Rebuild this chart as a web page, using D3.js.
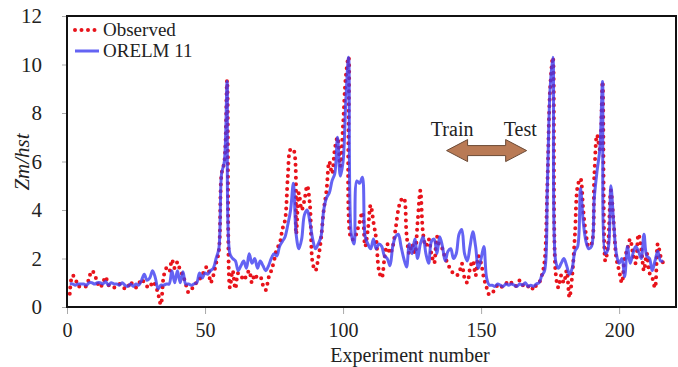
<!DOCTYPE html>
<html>
<head>
<meta charset="utf-8">
<script src="https://cdn.jsdelivr.net/npm/d3@7"></script>
<style>
  body { margin: 0; background: #fff; }
  text { font-family: "Liberation Serif", "Times New Roman", serif; fill: #222; }
</style>
</head>
<body>
<script>
// Observed Zm/hst, experiments 1..216
var observed = [
  0.55,1.3,1.2,0.85,0.85,0.85,0.85,1.2,1.5,1.35,
  1.0,0.8,1.0,1.25,0.9,0.9,0.8,0.85,0.95,0.9,
  0.75,0.8,1.05,0.85,0.8,0.95,1.15,1.0,0.85,0.8,
  1.05,0.9,0.55,0.1,1.25,1.6,1.45,1.95,1.6,1.85,
  1.5,1.3,0.95,0.6,0.75,0.8,1.05,1.15,1.3,1.6,
  1.65,1.0,1.3,1.8,2.3,5.5,6.0,9.35,0.8,1.5,
  0.75,1.4,1.3,1.1,1.3,1.5,1.0,1.35,1.2,1.25,
  0.9,0.7,1.2,1.5,1.9,2.4,2.6,3.2,3.6,5.4,
  6.5,6.5,3.0,4.7,4.0,4.4,5.0,4.2,1.8,1.5,
  2.0,2.8,4.0,4.8,6.0,5.5,6.5,7.0,5.8,7.5,
  9.5,10.3,2.8,2.8,3.1,3.5,3.9,2.5,3.2,4.2,
  3.5,2.8,1.5,1.2,2.0,2.6,2.2,2.5,3.2,4.0,
  4.4,4.5,3.0,2.2,2.6,2.2,3.5,4.8,3.0,2.5,
  2.8,2.2,1.8,2.9,2.5,2.4,2.0,1.8,1.5,1.4,
  1.3,1.4,1.8,1.2,1.0,1.6,1.9,1.3,2.1,1.8,
  1.2,0.8,0.5,0.6,0.7,0.9,0.8,0.9,1.0,0.9,
  1.0,0.85,0.9,1.1,0.9,0.95,0.85,0.9,0.7,0.9,
  1.0,1.3,1.9,5.0,9.0,10.3,1.4,0.8,1.3,1.0,
  1.5,0.4,1.3,3.0,5.0,5.3,4.0,3.0,2.5,2.6,
  5.4,7.1,6.5,9.3,1.9,2.6,4.8,3.5,2.0,1.5,
  1.0,2.0,2.4,2.8,2.2,1.8,3.0,2.4,1.5,2.2,
  1.4,1.2,0.8,2.6,2.1,1.8
];

// ORELM 11 prediction
var orelm = [
  0.95,0.95,0.9,0.95,0.95,0.95,0.9,1.0,1.0,0.95,
  1.0,1.0,0.95,1.05,0.9,1.0,0.95,0.95,0.9,1.0,
  0.9,0.85,0.95,0.85,0.95,0.9,1.1,1.35,1.1,1.2,
  1.5,1.2,0.75,0.9,0.9,0.95,0.95,1.5,1.0,1.5,
  1.0,1.45,0.95,0.95,0.9,0.95,1.0,1.4,1.2,1.4,
  1.35,1.5,1.6,2.0,2.4,5.5,6.0,9.3,2.2,2.0,
  1.9,1.5,1.7,1.9,1.6,2.2,1.8,2.0,1.6,1.9,
  1.7,1.5,1.7,2.0,2.2,2.1,2.5,2.7,2.9,3.4,
  4.0,5.1,3.0,2.4,2.8,3.8,4.0,3.5,2.8,2.4,
  2.6,2.9,4.0,4.5,4.7,5.2,5.5,7.0,5.4,6.0,
  8.5,10.3,3.0,2.6,5.2,5.1,5.35,2.9,2.6,2.4,
  2.8,2.4,2.6,2.5,2.1,2.0,1.7,2.5,2.9,3.0,
  2.5,2.0,1.65,2.6,2.2,2.8,2.0,2.6,2.9,2.2,
  1.8,2.7,2.8,2.2,2.9,2.5,1.9,2.3,2.4,2.0,
  2.2,3.0,3.2,2.2,1.9,2.5,3.1,2.5,1.6,2.0,
  2.5,1.2,0.9,0.9,0.85,0.95,0.9,0.85,0.95,0.9,
  0.95,0.9,0.85,0.95,0.9,1.0,0.85,0.9,0.85,0.95,
  1.0,1.3,1.5,5.0,9.0,10.3,1.9,1.6,1.8,2.0,
  1.7,1.35,1.6,2.3,2.5,4.9,3.5,2.7,2.4,2.5,
  4.5,5.6,6.5,9.3,2.2,2.4,5.0,3.5,2.2,1.8,
  2.0,1.25,2.5,1.8,2.2,2.5,2.3,2.0,3.0,2.1,
  2.0,1.5,1.9,2.3,1.9,1.9
];

var xTicks = [0, 50, 100, 150, 200];
var yTicks = [0, 2, 4, 6, 8, 10, 12];
var seriesNames = ["Observed", "ORELM 11"];

(function() {
  var w = 678, h = 367;
  var pLeft = 67, pRight = 676, pTop = 16, pBottom = 307;

  var svg = d3.select("body").append("svg")
      .attr("width", w)
      .attr("height", h);

  var xScale = d3.scaleLinear().domain([0, 220.6]).range([pLeft, pRight]);
  var yScale = d3.scaleLinear().domain([0, 12]).range([pBottom, pTop]);

  // axes (gray small ticks, serif labels)
  var xAxis = d3.axisBottom(xScale).tickValues(xTicks).tickSize(7).tickPadding(9);
  var yAxis = d3.axisLeft(yScale).tickValues(yTicks).tickSize(5).tickPadding(16);

  var gx = svg.append("g")
      .attr("transform", `translate(0, ${pBottom})`)
      .call(xAxis);
  var gy = svg.append("g")
      .attr("transform", `translate(${pLeft}, 0)`)
      .call(yAxis);

  [gx, gy].forEach(function(g) {
    g.select(".domain").remove();
    g.selectAll(".tick line").attr("stroke", "#aaa");
    g.selectAll(".tick text")
      .attr("font-size", "21px")
      .attr("font-family", "Liberation Serif, serif")
      .attr("fill", "#222");
  });
  gx.selectAll(".tick text").attr("font-size", "20px");
  gy.selectAll(".tick text").attr("dx", "-4px");

  var line = d3.line()
      .x(function(d, i) { return xScale(i + 1); })
      .y(function(d) { return yScale(d); })
      .curve(d3.curveCatmullRom.alpha(0.5));

  // observed as a round-dot line
  svg.append("path")
      .datum(observed)
      .attr("fill", "none")
      .attr("stroke", "#e8131b")
      .attr("stroke-width", 4)
      .attr("stroke-linecap", "round")
      .attr("stroke-dasharray", "0,6.5")
      .attr("d", line);

  svg.append("path")
      .datum(orelm)
      .attr("fill", "none")
      .attr("stroke", "#3d3cf0")
      .attr("stroke-opacity", 0.8)
      .attr("stroke-width", 3)
      .attr("stroke-linejoin", "round")
      .attr("d", line);

  // plot frame
  svg.append("rect")
      .attr("x", pLeft).attr("y", pTop)
      .attr("width", pRight - pLeft).attr("height", pBottom - pTop)
      .attr("fill", "none")
      .attr("stroke", "#111")
      .attr("stroke-width", 2);

  // legend
  var legend = svg.append("g").attr("transform", "translate(75, 30)");
  legend.append("line")
      .attr("x1", 0).attr("x2", 23).attr("y1", 0).attr("y2", 0)
      .attr("stroke", "#e8131b").attr("stroke-width", 4)
      .attr("stroke-linecap", "round").attr("stroke-dasharray", "0,6.5");
  legend.append("line")
      .attr("x1", 0).attr("x2", 24).attr("y1", 21).attr("y2", 21)
      .attr("stroke", "#3d3cf0").attr("stroke-opacity", 0.8).attr("stroke-width", 3);
  legend.selectAll("text.lg")
      .data(seriesNames)
      .enter().append("text")
      .attr("class", "lg")
      .attr("x", 28)
      .attr("y", function(d, i) { return 6 + i * 21; })
      .attr("font-size", "19px")
      .text(function(d) { return d; });

  // axis titles
  svg.append("text")
      .attr("x", 410).attr("y", 362)
      .attr("text-anchor", "middle")
      .attr("font-size", "20px")
      .text("Experiment number");

  svg.append("text")
      .attr("transform", "translate(29, 162) rotate(-90)")
      .attr("text-anchor", "middle")
      .attr("font-size", "21px")
      .attr("font-style", "italic")
      .text("Zm/hst");

  // train / test annotation
  var ay = yScale(6.45);
  var ax1 = xScale(137.5), ax2 = xScale(166.5);
  var head = 21, half = 11, shaft = 5;
  var arrowPts = [
    [ax1, ay], [ax1 + head, ay - half], [ax1 + head, ay - shaft],
    [ax2 - head, ay - shaft], [ax2 - head, ay - half], [ax2, ay],
    [ax2 - head, ay + half], [ax2 - head, ay + shaft],
    [ax1 + head, ay + shaft], [ax1 + head, ay + half]
  ];
  svg.append("polygon")
      .attr("points", arrowPts.map(function(p) { return p.join(","); }).join(" "))
      .attr("fill", "#b97a55")
      .attr("stroke", "#6b4a36")
      .attr("stroke-width", 1);

  svg.append("text")
      .attr("x", xScale(131.8)).attr("y", yScale(7.05))
      .attr("font-size", "20px")
      .text("Train");
  svg.append("text")
      .attr("x", xScale(158.2)).attr("y", yScale(7.05))
      .attr("font-size", "20px")
      .text("Test");
})();
</script>
</body>
</html>
